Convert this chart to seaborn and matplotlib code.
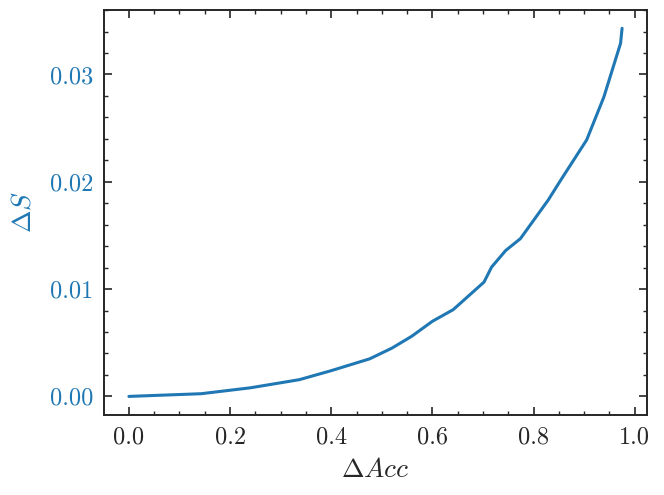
import matplotlib
matplotlib.use("Agg")
import matplotlib.pyplot as plt
import seaborn as sns
import numpy as np
import pandas as pd
from matplotlib.ticker import MultipleLocator

# values
delta_acc = [0.0, 0.1425, 0.24, 0.337, 0.40, 0.476, 0.52, 0.559, 0.600, 0.641,
             0.702, 0.717, 0.745, 0.774, 0.829, 0.853, 0.905, 0.939, 0.972, 0.975]
delta_s = [0.0, 0.00025, 0.0008, 0.00156, 0.0024, 0.0035, 0.0045, 0.0056, 0.0070, 0.00808,
           0.01065, 0.01205, 0.0136, 0.0147, 0.0183, 0.0201, 0.0239, 0.0279, 0.0329, 0.0343]

df = pd.DataFrame({"dacc": delta_acc, "ds": delta_s})

blue = "#1f77b4"

sns.set_style("ticks")
plt.rcParams.update({
    "font.family": "serif",
    "font.serif": ["cmr10"],
    "mathtext.fontset": "cm",
    "axes.formatter.use_mathtext": True,
    "axes.linewidth": 1.4,
    "xtick.direction": "in",
    "ytick.direction": "in",
    "xtick.top": True,
    "ytick.right": True,
    "xtick.minor.visible": True,
    "ytick.minor.visible": True,
    "xtick.major.size": 6,
    "ytick.major.size": 6,
    "xtick.minor.size": 3,
    "ytick.minor.size": 3,
    "xtick.major.width": 1.2,
    "ytick.major.width": 1.2,
    "xtick.minor.width": 1.0,
    "ytick.minor.width": 1.0,
})

fig = plt.figure(figsize=(6.64, 4.95), dpi=100)
ax = fig.add_axes([0.157, 0.162, 0.817, 0.818])

sns.lineplot(data=df, x="dacc", y="ds", ax=ax, color=blue, linewidth=2.2)

ax.xaxis.set_major_locator(MultipleLocator(0.2))
ax.xaxis.set_minor_locator(MultipleLocator(0.05))
ax.yaxis.set_major_locator(MultipleLocator(0.01))
ax.yaxis.set_minor_locator(MultipleLocator(0.002))
ax.xaxis.set_major_formatter(plt.FuncFormatter(lambda v, p: f"{v:.1f}"))
ax.yaxis.set_major_formatter(plt.FuncFormatter(lambda v, p: f"{v:.2f}"))

ax.set_xlabel(r"$\Delta Acc$", fontsize=19.5, labelpad=7)
ax.set_ylabel(r"$\Delta S$", fontsize=19.5, color=blue, labelpad=10)
ax.tick_params(axis="both", which="major", labelsize=17.5, pad=8)
ax.tick_params(axis="y", labelcolor=blue)

fig.savefig("out.png", dpi=100)
